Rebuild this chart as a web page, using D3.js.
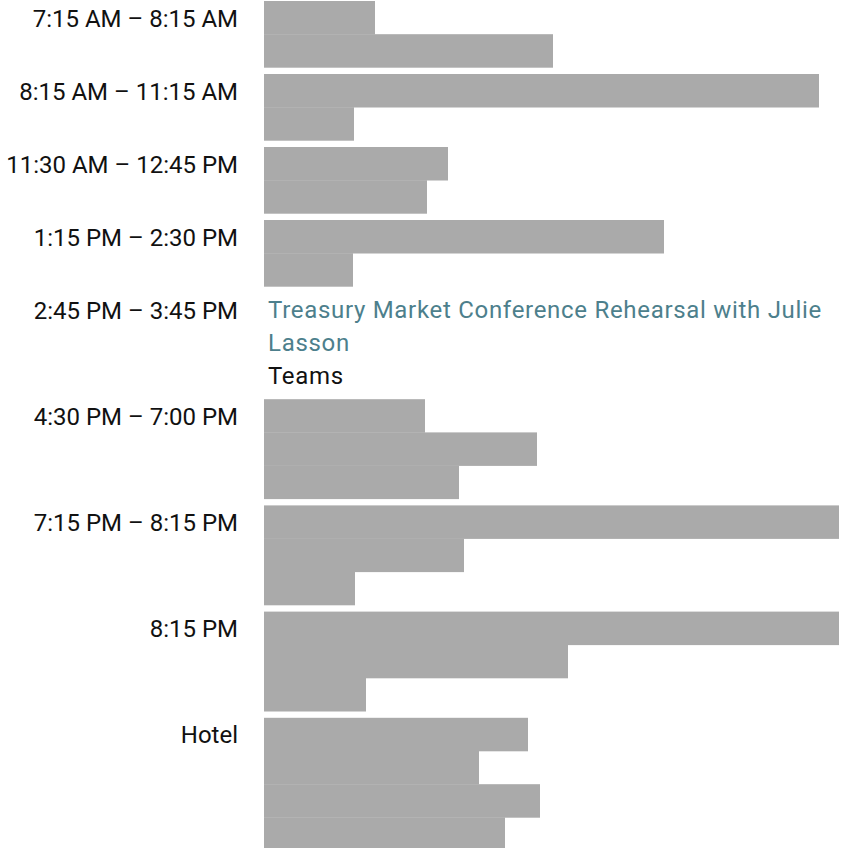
<!DOCTYPE html>
<html>
<head>
<meta charset="utf-8">
<script src="https://cdn.jsdelivr.net/npm/d3@7"></script>
<style>
  html, body { margin: 0; padding: 0; background: #fff; }
  svg { display: block; }
</style>
</head>
<body>
<div id="agenda"></div>
<script>
// time slot labels, one per block
var timeLabels = [
	"7:15 AM – 8:15 AM",
	"8:15 AM – 11:15 AM",
	"11:30 AM – 12:45 PM",
	"1:15 PM – 2:30 PM",
	"2:45 PM – 3:45 PM",
	"4:30 PM – 7:00 PM",
	"7:15 PM – 8:15 PM",
	"8:15 PM",
	"Hotel"
];

// length of each redacted line (0..575), null where the block has real text
var barWidths = [
	[111, 289],
	[555, 90],
	[184, 163],
	[400, 89],
	null,
	[161, 273, 195],
	[575, 200, 91],
	[575, 304, 102],
	[264, 215, 276, 241]
];

// the one block that is not redacted
var textLines = [
	{ text: "Treasury Market Conference Rehearsal with Julie", link: true },
	{ text: "Lasson", link: true },
	{ text: "Teams", link: false }
];

var W = 844, H = 848;
var lineH = 33.2, gap = 6.6, startY = 1;
var font = "Roboto, 'Noto Sans', sans-serif";

var svg = d3.select("#agenda").append("svg")
	.attr("width", W)
	.attr("height", H);

var x = d3.scaleLinear().domain([0, 575]).range([264, 839]);

// work out where each block starts from the number of lines it holds
var blocks = [];
var yPos = startY;
timeLabels.forEach(function(label, i) {
	var n = barWidths[i] ? barWidths[i].length : textLines.length;
	blocks.push({ label: label, bars: barWidths[i], y: yPos, n: n });
	yPos += n * lineH + gap;
});

var g = svg.selectAll("g.block")
	.data(blocks)
	.enter().append("g")
	.attr("class", "block")
	.attr("transform", function(d) { return "translate(0," + d.y + ")"; });

g.append("text")
	.attr("x", 238)
	.attr("y", 25.5)
	.attr("text-anchor", "end")
	.style("font-family", font)
	.style("font-size", "24px")
	.style("fill", "#111")
	.text(function(d) { return d.label; });

g.filter(function(d) { return d.bars; })
	.selectAll("rect")
	.data(function(d) { return d.bars; })
	.enter().append("rect")
	.attr("x", x(0))
	.attr("y", function(d, i) { return i * lineH; })
	.attr("width", function(d) { return x(d) - x(0); })
	.attr("height", lineH + 0.3)
	.style("fill", "#aaaaaa");

g.filter(function(d) { return !d.bars; })
	.selectAll("text.entry")
	.data(textLines)
	.enter().append("text")
	.attr("class", "entry")
	.attr("x", 268)
	.attr("y", function(d, i) { return 25 + i * lineH; })
	.style("font-family", font)
	.style("font-size", "24px")
	.style("letter-spacing", "0.7px")
	.style("fill", function(d) { return d.link ? "#4d7f8c" : "#111"; })
	.text(function(d) { return d.text; });
</script>
</body>
</html>
